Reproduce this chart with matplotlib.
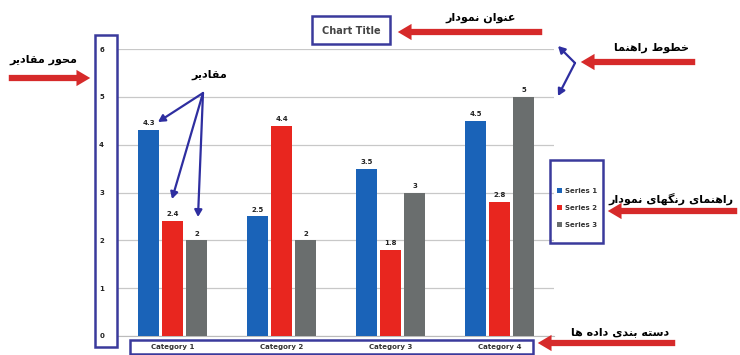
import matplotlib
matplotlib.use("Agg")
import matplotlib.pyplot as plt
from matplotlib.patches import FancyArrowPatch, Rectangle
import numpy as np

categories = ["Category 1", "Category 2", "Category 3", "Category 4"]
series_names = ["Series 1", "Series 2", "Series 3"]
series1 = [4.3, 2.5, 3.5, 4.5]
series2 = [2.4, 4.4, 1.8, 2.8]
series3 = [2, 2, 3, 5]
yticks = [0, 1, 2, 3, 4, 5, 6]
colors = ["#1a63b8", "#e8261f", "#6a6e6e"]

# Persian annotation labels
lbl_axis = "محور مقادیر"
lbl_values = "مقادیر"
lbl_title = "عنوان نمودار"
lbl_grid = "خطوط راهنما"
lbl_legend = "راهنمای رنگهای نمودار"
lbl_cat = "دسته بندی داده ها"

FORMS = {
    'ا': ('\uFE8D', '\uFE8E', None, None),
    'ب': ('\uFE8F', '\uFE90', '\uFE91', '\uFE92'),
    'ت': ('\uFE95', '\uFE96', '\uFE97', '\uFE98'),
    'ح': ('\uFEA1', '\uFEA2', '\uFEA3', '\uFEA4'),
    'خ': ('\uFEA5', '\uFEA6', '\uFEA7', '\uFEA8'),
    'د': ('\uFEA9', '\uFEAA', None, None),
    'ر': ('\uFEAD', '\uFEAE', None, None),
    'س': ('\uFEB1', '\uFEB2', '\uFEB3', '\uFEB4'),
    'ط': ('\uFEC1', '\uFEC2', '\uFEC3', '\uFEC4'),
    'ع': ('\uFEC9', '\uFECA', '\uFECB', '\uFECC'),
    'ق': ('\uFED5', '\uFED6', '\uFED7', '\uFED8'),
    'ل': ('\uFEDD', '\uFEDE', '\uFEDF', '\uFEE0'),
    'م': ('\uFEE1', '\uFEE2', '\uFEE3', '\uFEE4'),
    'ن': ('\uFEE5', '\uFEE6', '\uFEE7', '\uFEE8'),
    'ه': ('\uFEE9', '\uFEEA', '\uFEEB', '\uFEEC'),
    'و': ('\uFEED', '\uFEEE', None, None),
    'ی': ('\uFBFC', '\uFBFD', '\uFBFE', '\uFBFF'),
    'گ': ('\uFB92', '\uFB93', '\uFB94', '\uFB95'),
}


def shape(text):
    out = []
    for i, c in enumerate(text):
        if c not in FORMS:
            out.append(c)
            continue
        prev = text[i - 1] if i > 0 else None
        nxt = text[i + 1] if i + 1 < len(text) else None
        jp = prev in FORMS and FORMS[prev][2] is not None
        jn = nxt in FORMS and FORMS[c][2] is not None
        iso, fin, ini, med = FORMS[c]
        if jp and jn:
            out.append(med)
        elif jp:
            out.append(fin)
        elif jn:
            out.append(ini)
        else:
            out.append(iso)
    return "".join(reversed(out))


W, H = 740, 355
fig = plt.figure(figsize=(W / 100, H / 100), dpi=100)
fig.patch.set_facecolor("white")


def P(x, y):
    return (x / W, 1 - y / H)


ax = fig.add_axes([118 / W, 1 - 336 / H, 436 / W, 287 / H])
x = np.arange(len(categories))
bw = 0.185
step = 0.22
for k, (vals, col) in enumerate(zip([series1, series2, series3], colors)):
    bars = ax.bar(x + (k - 1) * step, vals, width=bw, color=col, zorder=3,
                  label=series_names[k])
    for b, v in zip(bars, vals):
        ax.text(b.get_x() + b.get_width() / 2, v + 0.08, f"{v:g}",
                ha="center", va="bottom", fontsize=5, fontweight="bold",
                color="#222222")

ax.set_xlim(-0.5, 3.5)
ax.set_ylim(0, 6)
ax.set_yticks(yticks)
ax.set_yticklabels([str(t) for t in yticks], fontsize=5, fontweight="bold",
                   color="#222222")
ax.set_xticks(x)
ax.set_xticklabels(categories, fontsize=5, fontweight="bold", color="#333333")
ax.tick_params(length=0)
ax.tick_params(axis="y", pad=10)
ax.tick_params(axis="x", pad=6)
ax.grid(axis="y", color="#c8c8c8", lw=0.9, zorder=0)
for s in ["top", "right", "left"]:
    ax.spines[s].set_visible(False)
ax.spines["bottom"].set_color("#bbbbbb")
ax.set_facecolor("none")

# legend
leg = fig.legend(loc="center", bbox_to_anchor=P(577, 208),
                 frameon=False, handlelength=0.7, handleheight=0.7,
                 labelspacing=1.6, handletextpad=0.4,
                 prop={"size": 5, "weight": "bold"})
for t in leg.get_texts():
    t.set_color("#333333")

# chart title
fig.text(*P(351, 31), "Chart Title", ha="center", va="center",
         fontsize=7, fontweight="bold", color="#444444")

box_col = "#3a3a9c"


def box(x0, y0, x1, y1):
    r = Rectangle(P(x0, y1), (x1 - x0) / W, (y1 - y0) / H,
                  transform=fig.transFigure, fill=False, ec=box_col, lw=1.8)
    fig.add_artist(r)


box(312, 16, 390, 44)
box(95, 35, 117, 347)
box(550, 160, 603, 243)
box(130, 340, 533, 354)

red = "#d62a2a"


def red_arrow(x0, y0, x1, y1):
    a = FancyArrowPatch(P(x0, y0), P(x1, y1), transform=fig.transFigure,
                        arrowstyle="simple,head_length=1.1,head_width=1.3,tail_width=0.5",
                        mutation_scale=9, color=red, lw=0)
    fig.add_artist(a)


def blue_arrow(x0, y0, x1, y1):
    a = FancyArrowPatch(P(x0, y0), P(x1, y1), transform=fig.transFigure,
                        arrowstyle="-|>,head_length=4,head_width=2.2",
                        color="#2e2ea0", lw=1.6, shrinkA=0, shrinkB=0)
    fig.add_artist(a)


red_arrow(6, 78, 93, 78)
red_arrow(545, 32, 395, 32)
red_arrow(698, 62, 578, 62)
red_arrow(740, 211, 605, 211)
red_arrow(678, 343, 535, 343)

for ex, ey in [(158, 122), (172, 199), (198, 217)]:
    blue_arrow(203, 93, ex, ey)
blue_arrow(575, 63, 558, 46)
blue_arrow(575, 63, 558, 96)

fa = dict(ha="center", va="center", fontsize=8, fontweight="bold",
          color="black", family=["DejaVu Sans"])
fig.text(*P(43, 60), shape(lbl_axis), **fa)
fig.text(*P(209, 75), shape(lbl_values), **fa)
fig.text(*P(481, 18), shape(lbl_title), **fa)
fig.text(*P(652, 48), shape(lbl_grid), **fa)
fig.text(*P(671, 199), shape(lbl_legend), **fa)
fig.text(*P(620, 332), shape(lbl_cat), **fa)

fig.savefig("out.png", dpi=100, facecolor="white")
